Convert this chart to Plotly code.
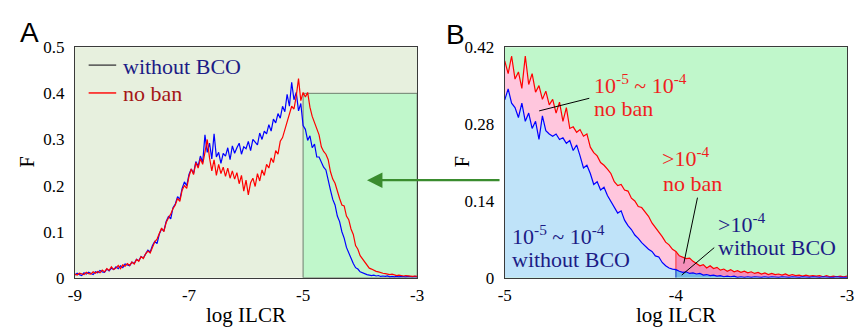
import numpy as np
import plotly.graph_objects as go

# ---------------- data ----------------
# Panel A: x grid from -9 to -3 (step 0.04)
xa_start, xa_stop, xa_n = -9.0, -3.0, 151
blue_a = [
    0.006, 0.010, 0.007, 0.005, 0.011, 0.008, 0.012, 0.009, 0.007, 0.013,
    0.011, 0.016, 0.013, 0.012, 0.019, 0.015, 0.021, 0.018, 0.024, 0.020,
    0.026, 0.022, 0.030, 0.028, 0.026, 0.034, 0.031, 0.040, 0.037, 0.046,
    0.043, 0.052, 0.060, 0.056, 0.070, 0.079, 0.074, 0.095, 0.106, 0.102,
    0.122, 0.133, 0.128, 0.152, 0.160, 0.176, 0.170, 0.194, 0.208, 0.200,
    0.224, 0.236, 0.226, 0.252, 0.242, 0.264, 0.250, 0.310, 0.272, 0.292,
    0.258, 0.312, 0.262, 0.272, 0.248, 0.270, 0.264, 0.282, 0.256, 0.286,
    0.270, 0.282, 0.292, 0.268, 0.284, 0.280, 0.296, 0.276, 0.300, 0.294,
    0.288, 0.314, 0.300, 0.318, 0.312, 0.332, 0.318, 0.344, 0.336, 0.356,
    0.346, 0.372, 0.360, 0.398, 0.372, 0.424, 0.386, 0.402, 0.362, 0.378,
    0.330, 0.322, 0.298, 0.308, 0.282, 0.290, 0.262, 0.262, 0.250, 0.240,
    0.234, 0.208, 0.190, 0.170, 0.158, 0.134, 0.122, 0.100, 0.086, 0.066,
    0.054, 0.040, 0.031, 0.022, 0.019, 0.013, 0.011, 0.008, 0.007, 0.006,
    0.005, 0.006, 0.004, 0.005, 0.003, 0.004, 0.003, 0.004, 0.002, 0.003,
    0.002, 0.003, 0.002, 0.003, 0.002, 0.002, 0.003, 0.002, 0.002, 0.003,
    0.002,
]
red_a = [
    0.008, 0.006, 0.010, 0.008, 0.007, 0.012, 0.009, 0.008, 0.013, 0.010,
    0.014, 0.011, 0.017, 0.013, 0.020, 0.016, 0.024, 0.018, 0.021, 0.027,
    0.020, 0.028, 0.025, 0.031, 0.027, 0.034, 0.030, 0.040, 0.036, 0.046,
    0.042, 0.052, 0.058, 0.054, 0.068, 0.078, 0.084, 0.096, 0.108, 0.100,
    0.120, 0.130, 0.138, 0.150, 0.158, 0.172, 0.166, 0.190, 0.200, 0.194,
    0.220, 0.236, 0.224, 0.250, 0.238, 0.258, 0.246, 0.272, 0.300, 0.260,
    0.232, 0.256, 0.222, 0.246, 0.226, 0.240, 0.220, 0.238, 0.216, 0.232,
    0.214, 0.228, 0.204, 0.222, 0.188, 0.212, 0.180, 0.206, 0.216, 0.198,
    0.226, 0.210, 0.234, 0.222, 0.246, 0.238, 0.260, 0.250, 0.276, 0.268,
    0.296, 0.304, 0.322, 0.334, 0.352, 0.372, 0.366, 0.394, 0.432, 0.384,
    0.402, 0.392, 0.402, 0.370, 0.350, 0.338, 0.322, 0.310, 0.284, 0.274,
    0.268, 0.256, 0.230, 0.214, 0.205, 0.186, 0.172, 0.158, 0.156, 0.134,
    0.126, 0.106, 0.094, 0.070, 0.062, 0.048, 0.041, 0.034, 0.026, 0.021,
    0.019, 0.016, 0.014, 0.013, 0.011, 0.010, 0.009, 0.008, 0.007, 0.008,
    0.006, 0.005, 0.006, 0.005, 0.004, 0.005, 0.004, 0.004, 0.003, 0.004,
    0.003,
]

# Panel B: x grid from -5 to -3 (step 0.02)
xb_start, xb_stop, xb_n = -5.0, -3.0, 101
blue_b = [
    0.324, 0.344, 0.318, 0.310, 0.292, 0.318, 0.285, 0.300, 0.272, 0.285,
    0.252, 0.295, 0.268, 0.262, 0.258, 0.262, 0.252, 0.255, 0.245, 0.250,
    0.232, 0.242, 0.222, 0.200, 0.205, 0.190, 0.170, 0.175, 0.160, 0.165,
    0.150, 0.140, 0.128, 0.118, 0.122, 0.105, 0.095, 0.088, 0.078, 0.072,
    0.064, 0.058, 0.052, 0.048, 0.040, 0.038, 0.028, 0.022, 0.018, 0.016,
    0.015, 0.012, 0.010, 0.011, 0.008, 0.009, 0.007, 0.008, 0.005, 0.006,
    0.004, 0.005, 0.003, 0.004, 0.002, 0.003, 0.002, 0.003, 0.001, 0.002,
    0.001, 0.002, 0.001, 0.002, 0.001, 0.001, 0.002, 0.001, 0.002, 0.001,
    0.001, 0.002, 0.001, 0.001, 0.002, 0.001, 0.001, 0.002, 0.001, 0.001,
    0.002, 0.001, 0.001, 0.002, 0.001, 0.001, 0.001, 0.002, 0.001, 0.001,
    0.001,
]
red_b = [
    0.395, 0.372, 0.404, 0.362, 0.375, 0.345, 0.404, 0.352, 0.372, 0.338,
    0.350, 0.325, 0.340, 0.315, 0.325, 0.300, 0.320, 0.285, 0.310, 0.272,
    0.275, 0.265, 0.270, 0.258, 0.262, 0.238, 0.228, 0.222, 0.210, 0.205,
    0.198, 0.190, 0.175, 0.168, 0.170, 0.160, 0.158, 0.145, 0.140, 0.130,
    0.128, 0.120, 0.112, 0.100, 0.092, 0.082, 0.075, 0.065, 0.060, 0.052,
    0.048, 0.040, 0.038, 0.035, 0.036, 0.030, 0.026, 0.022, 0.024, 0.018,
    0.022, 0.017, 0.019, 0.014, 0.016, 0.012, 0.015, 0.011, 0.013, 0.010,
    0.012, 0.009, 0.011, 0.008, 0.010, 0.007, 0.009, 0.006, 0.008, 0.006,
    0.007, 0.005, 0.007, 0.004, 0.006, 0.004, 0.005, 0.003, 0.005, 0.003,
    0.004, 0.003, 0.004, 0.002, 0.004, 0.002, 0.003, 0.002, 0.003, 0.002,
    0.003,
]
split_b = -4.0  # boundary between the 10^-5~10^-4 and >10^-4 regions
box_a_y = 0.4

xa_ticks = [-9, -7, -5, -3]
xa_labels = ["-9", "-7", "-5", "-3"]
ya_ticks = [0, 0.1, 0.2, 0.3, 0.4, 0.5]
ya_labels = ["0", "0.1", "0.2", "0.3", "0.4", "0.5"]
xb_ticks = [-5, -4, -3]
xb_labels = ["-5", "-4", "-3"]
yb_ticks = [0, 0.14, 0.28, 0.42]
yb_labels = ["0", "0.14", "0.28", "0.42"]

# ---------------- figure ----------------
W, H = 858, 335
SERIF = "Liberation Serif"
SANS = "Liberation Sans"
NAVY = "#1c1c86"
RED = "#f01e1e"

def px(x):
    return x / W

def py(y):
    return 1 - y / H

xa = np.linspace(xa_start, xa_stop, xa_n)
xb = np.linspace(xb_start, xb_stop, xb_n)
blue_b_arr = np.array(blue_b)
red_b_arr = np.array(red_b)
isplit = int(np.argmin(np.abs(xb - split_b)))

fig = go.Figure()

def poly(xs, top, bottom):
    return np.concatenate([xs, xs[::-1]]), np.concatenate([top, bottom[::-1]])

segs = [(slice(0, isplit + 1), "#bfe3f9", "#ffc6dd"),
        (slice(isplit, xb_n), "#72b8e8", "#f490ba")]
for sl, cblue, cpink in segs:
    xs = xb[sl]
    zx, zy = poly(xs, blue_b_arr[sl], np.zeros(len(xs)))
    fig.add_trace(go.Scatter(x=zx, y=zy, fill="toself", fillcolor=cblue, mode="none",
                             xaxis="x2", yaxis="y2", hoverinfo="skip"))
    zx, zy = poly(xs, red_b_arr[sl], blue_b_arr[sl])
    fig.add_trace(go.Scatter(x=zx, y=zy, fill="toself", fillcolor=cpink, mode="none",
                             xaxis="x2", yaxis="y2", hoverinfo="skip"))

fig.add_trace(go.Scatter(x=[xb[isplit], xb[isplit]], y=[blue_b[isplit], red_b[isplit]],
                         mode="lines", line=dict(color="#ff3030", width=1),
                         xaxis="x2", yaxis="y2", hoverinfo="skip"))
fig.add_trace(go.Scatter(x=[xb[isplit], xb[isplit]], y=[0, blue_b[isplit]],
                         mode="lines", line=dict(color="#1030c0", width=1),
                         xaxis="x2", yaxis="y2", hoverinfo="skip"))

fig.add_trace(go.Scatter(x=xb, y=red_b, mode="lines", line=dict(color="#ff0000", width=1.2),
                         xaxis="x2", yaxis="y2"))
fig.add_trace(go.Scatter(x=xb, y=blue_b, mode="lines", line=dict(color="#0000ff", width=1.2),
                         xaxis="x2", yaxis="y2"))

fig.add_trace(go.Scatter(x=xa, y=blue_a, mode="lines", line=dict(color="#0000ff", width=1.2),
                         xaxis="x", yaxis="y"))
fig.add_trace(go.Scatter(x=xa, y=red_a, mode="lines", line=dict(color="#ff0000", width=1.2),
                         xaxis="x", yaxis="y"))

shapes = [
    dict(type="rect", xref="x domain", yref="y domain", x0=0, x1=1, y0=0, y1=1,
         fillcolor="#e7f0de", line=dict(width=0), layer="below"),
    dict(type="rect", xref="x", yref="y", x0=split_b - 1, x1=xa_stop, y0=0, y1=box_a_y,
         fillcolor="#c0f7cb", line=dict(color="#6f7f6f", width=1), layer="below"),
    dict(type="rect", xref="x2 domain", yref="y2 domain", x0=0, x1=1, y0=0, y1=1,
         fillcolor="#c0f7cb", line=dict(width=0), layer="below"),
    dict(type="line", xref="paper", yref="paper", x0=px(83), x1=px(111), y0=py(59.5), y1=py(59.5),
         line=dict(color="#505050", width=1.5)),
    dict(type="line", xref="paper", yref="paper", x0=px(83), x1=px(111), y0=py(89), y1=py(89),
         line=dict(color="#ff1010", width=1.5)),
    dict(type="line", xref="x2", yref="y2", x0=-4.506, y0=0.327, x1=-4.799, y1=0.304,
         line=dict(color="black", width=1)),
    dict(type="line", xref="x2", yref="y2", x0=-3.874, y0=0.146, x1=-3.954, y1=0.026,
         line=dict(color="black", width=1)),
    dict(type="line", xref="x2", yref="y2", x0=-3.776, y0=0.055, x1=-3.966, y1=0.005,
         line=dict(color="black", width=1)),
]

def ann(text, x, y, color="black", size=22, family=SERIF, xanchor="left", **kw):
    return dict(text=text, x=px(x), y=py(y), xref="paper", yref="paper", showarrow=False,
                xanchor=xanchor, yanchor="middle", font=dict(family=family, size=size, color=color), **kw)

annotations = [
    ann("A", 23, 25, size=28, family=SANS, xanchor="center"),
    ann("B", 456, 27, size=28, family=SANS, xanchor="center"),
    ann("F", 20, 162, size=20, xanchor="center", textangle=-90),
    ann("F", 462, 162, size=20, xanchor="center", textangle=-90),
    ann("log ILCR", 243, 324, size=21, xanchor="center"),
    ann("log ILCR", 680, 324, size=21, xanchor="center"),
    ann("without BCO", 116, 61, color=NAVY),
    ann("no ban", 116, 90, color="#a51515"),
    ann("10<sup>-5</sup> ~ 10<sup>-4</sup>", 595, 80, color=RED),
    ann("no ban", 595, 105, color=RED),
    ann("&gt;10<sup>-4</sup>", 664, 157, color=RED),
    ann("no ban", 665, 185, color=RED),
    ann("&gt;10<sup>-4</sup>", 721, 227, color=NAVY),
    ann("without BCO", 721, 253, color=NAVY),
    ann("10<sup>-5</sup> ~ 10<sup>-4</sup>", 511, 240, color=NAVY),
    ann("without BCO", 511, 266, color=NAVY),
    dict(text="", x=px(366), y=py(181.5), xref="paper", yref="paper", showarrow=True,
         ax=134, ay=0, arrowhead=2, arrowsize=1.4, arrowwidth=2.2, arrowcolor="#3a8c2e"),
]

axis_common = dict(showgrid=False, zeroline=False, showline=True, linecolor="#3a3a3a",
                   linewidth=1, mirror=True, ticks="", tickmode="array",
                   tickfont=dict(family=SERIF, size=17, color="black"))

fig.update_layout(
    width=W, height=H, margin=dict(l=0, r=0, t=0, b=0),
    paper_bgcolor="white", plot_bgcolor="rgba(0,0,0,0)", showlegend=False,
    xaxis=dict(domain=[px(69), px(417)], range=[xa_start, xa_stop], tickvals=xa_ticks,
               ticktext=xa_labels, anchor="y", ticklabelstandoff=2, **axis_common),
    yaxis=dict(domain=[py(285), py(40.5)], range=[0, 0.5], tickvals=ya_ticks,
               ticktext=ya_labels, anchor="x", ticklabelstandoff=6, **axis_common),
    xaxis2=dict(domain=[px(506), px(854)], range=[xb_start, xb_stop], tickvals=xb_ticks,
                ticktext=xb_labels, anchor="y2", ticklabelstandoff=2, **axis_common),
    yaxis2=dict(domain=[py(285), py(40.5)], range=[0, 0.42], tickvals=yb_ticks,
                ticktext=yb_labels, anchor="x2", ticklabelstandoff=6, **axis_common),
    shapes=shapes, annotations=annotations,
)

post = ("document.documentElement.style.margin='0';document.documentElement.style.padding='0';"
        "document.body.style.margin='0';document.body.style.padding='0';"
        "document.body.style.overflow='hidden';")
fig.write_html("out.html", post_script=post, config={"displayModeBar": False})
